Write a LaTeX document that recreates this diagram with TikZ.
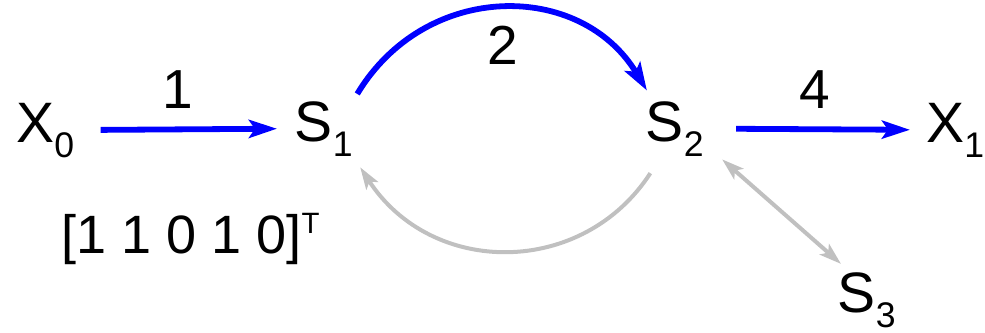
\documentclass[tikz,border=0pt]{standalone}
\usepackage{fontspec}
\setmainfont{Liberation Sans}
\usepackage{xcolor}
\usetikzlibrary{arrows.meta}

\definecolor{pale}{RGB}{192,192,192}
\newcommand{\lowsub}[1]{\raisebox{-7.5pt}{\fontsize{17.8}{18}\selectfont #1}}
\newcommand{\highsup}[1]{\raisebox{10pt}{\fontsize{14.7}{15}\selectfont #1}}

\tikzset{
  Btip/.tip={Stealth[length=14pt,width=9pt,inset=3pt]},
  Gtip/.tip={Stealth[length=11pt,width=7pt,inset=2.5pt]},
  state/.style={inner sep=0pt, anchor=base west, font=\fontsize{28.5}{30}\selectfont},
  num/.style={inner sep=0pt, font=\fontsize{27.5}{28}\selectfont},
  flow/.style={draw=blue, line width=2.9pt, -Btip},
  back/.style={draw=pale, line width=2pt},
}

\begin{document}
\begin{tikzpicture}[x=0.5pt,y=-0.5pt]
        \useasboundingbox (0,0) rectangle (985,332);
        \node[state] at (16,142) (X0) {X\lowsub{0}};
        \node[state] at (294.5,141) (S1) {S\lowsub{1}};
        \node[state] at (645.5,141) (S2) {S\lowsub{2}};
        \node[state] at (926,142) (X1) {X\lowsub{1}};
        \node[state] at (837.5,312) (S3) {S\lowsub{3}};
        \node[state, font=\fontsize{27}{28}\selectfont] at (61,253) (vec) {[1 1 0 1 0]\highsup{T}};
        % moves along the path
        \draw[flow, shorten <=13pt, shorten >=8.75pt] (X0.east) -- node[num, pos=0.47, above=9pt] {1} (S1.west);
        \draw[flow, shorten <=4pt, shorten >=6pt] (S1.north east) to[bend left=59, looseness=1.2] node[num, midway, below=6.5pt] {2} (S2.128);
        \draw[flow, shorten <=16pt, shorten >=8pt] (S2.east) -- node[num, midway, above=9pt] {4} (X1.west);
        % way back and side step
        \draw[back, -Gtip, shorten <=10pt, shorten >=6.5pt] (S2.244) to[bend left=57, looseness=1.2] (S1.south east);
        \draw[back, Gtip-Gtip, shorten <=12pt, shorten >=6pt] (S2.-27) -- (S3.121);
    \end{tikzpicture}
\end{document}
